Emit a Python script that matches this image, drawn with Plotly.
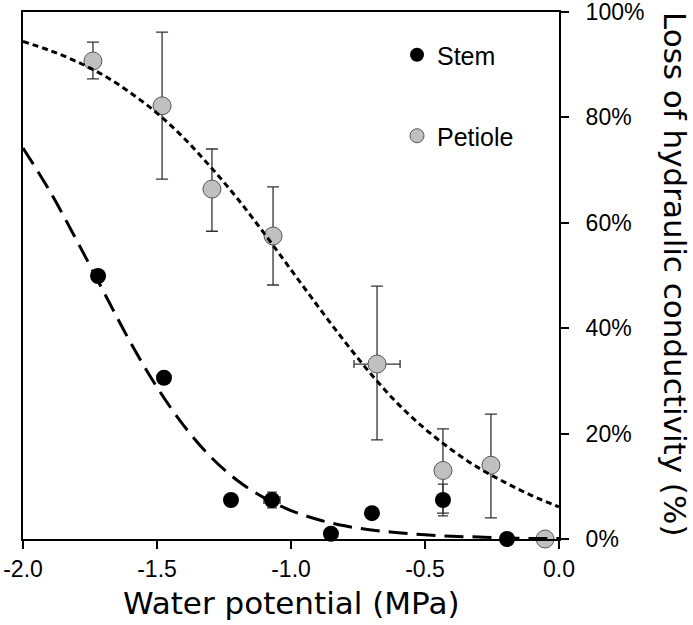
import plotly.graph_objects as go

# ---- data ----
petiole_x = [-1.739, -1.481, -1.295, -1.067, -0.679, -0.433, -0.254, -0.052]
petiole_y = [90.7, 82.2, 66.4, 57.5, 33.2, 13.0, 14.0, 0.0]
petiole_err_plus = [3.6, 14.0, 7.6, 9.3, 14.8, 7.9, 9.7, 0.0]
petiole_err_minus = [3.4, 13.9, 8.0, 9.3, 14.4, 8.1, 10.0, 0.0]
petiole_xerr = [0.0, 0.0, 0.0, 0.0, 0.086, 0.012, 0.0, 0.0]

stem_x = [-1.720, -1.474, -1.224, -1.071, -0.851, -0.698, -0.433, -0.194]
stem_y = [49.9, 30.6, 7.4, 7.4, 1.0, 4.9, 7.4, 0.0]
stem_yerr = [0.0, 0.0, 0.8, 1.5, 0.0, 0.0, 3.0, 0.0]
stem_xerr = [0.0, 0.0, 0.015, 0.03, 0.0, 0.0, 0.02, 0.0]

# fitted curves
curve_x = [-2.0, -1.9, -1.8, -1.7, -1.6, -1.5, -1.4, -1.3, -1.2, -1.1, -1.0,
           -0.9, -0.8, -0.7, -0.6, -0.5, -0.4, -0.3, -0.2, -0.1, 0.0]
petiole_curve = [94.4, 92.7, 90.6, 88.0, 84.7, 80.8, 76.1, 70.6, 64.6, 58.0, 51.1,
                 44.2, 37.5, 31.2, 25.6, 20.9, 16.9, 13.5, 10.7, 8.2, 6.1]
stem_curve = [74.2, 66.0, 56.7, 47.0, 37.4, 28.8, 21.5, 15.6, 11.1, 7.8, 5.4,
              3.7, 2.5, 1.7, 1.2, 0.8, 0.5, 0.4, 0.2, 0.1, 0.1]

x_ticks = [-2.0, -1.5, -1.0, -0.5, 0.0]
x_tick_labels = ["-2.0", "-1.5", "-1.0", "-0.5", "0.0"]
y_ticks = [0, 20, 40, 60, 80, 100]
y_tick_labels = ["0%", "20%", "40%", "60%", "80%", "100%"]

W, H = 693, 625
L, R, T, B = 23, 134, 12, 86
pw, ph = W - L - R, H - T - B

def px_to_paper_x(px):
    return (px - L) / pw

def px_to_paper_y(py):
    return (H - B - py) / ph

fig = go.Figure()

fig.add_trace(go.Scatter(
    x=petiole_x, y=petiole_y, mode="markers", showlegend=False, cliponaxis=False,
    marker=dict(size=18, color="#c0c0c0", line=dict(color="#555555", width=1)),
    error_y=dict(type="data", array=petiole_err_plus, arrayminus=petiole_err_minus,
                 color="#333333", thickness=1.3, width=6),
    error_x=dict(type="data", array=petiole_xerr, color="#333333", thickness=1.3, width=4),
))
fig.add_trace(go.Scatter(
    x=stem_x, y=stem_y, mode="markers", showlegend=False, cliponaxis=False,
    marker=dict(size=16, color="#000000", line=dict(color="#000000", width=0)),
    error_y=dict(type="data", array=stem_yerr, color="#333333", thickness=1.3, width=5),
    error_x=dict(type="data", array=stem_xerr, color="#333333", thickness=1.3, width=4),
))
fig.add_trace(go.Scatter(
    x=curve_x, y=petiole_curve, mode="lines", showlegend=False, line_shape="spline",
    line=dict(color="#000000", width=3, dash="6px,4px"),
))
fig.add_trace(go.Scatter(
    x=curve_x, y=stem_curve, mode="lines", showlegend=False, line_shape="spline",
    line=dict(color="#000000", width=3, dash="19px,9px"),
))

# legend entries
fig.add_trace(go.Scatter(
    x=[None], y=[None], mode="markers", name="Stem", legend="legend",
    marker=dict(size=14, color="#000000"),
))
fig.add_trace(go.Scatter(
    x=[None], y=[None], mode="markers", name="Petiole", legend="legend2",
    marker=dict(size=14, color="#c0c0c0", line=dict(color="#555555", width=1)),
))

tick_font = dict(family="Liberation Sans, Arial, sans-serif", size=23, color="#000000")
title_font = dict(family="DejaVu Sans, Verdana, sans-serif", size=31, color="#000000")
legend_font = dict(family="Liberation Sans, Arial, sans-serif", size=25, color="#000000")

fig.update_layout(
    width=W, height=H,
    margin=dict(l=L, r=R, t=T, b=B, autoexpand=False),
    paper_bgcolor="white", plot_bgcolor="white",
    xaxis=dict(
        range=[-2.0, 0.0], tickmode="array", tickvals=x_ticks, ticktext=x_tick_labels,
        showgrid=False, zeroline=False, automargin=False, ticklabeloverflow="allow",
        showline=True, linecolor="black", linewidth=2, mirror=True,
        ticks="outside", ticklen=8, tickwidth=2, tickcolor="black",
        tickfont=tick_font,
    ),
    yaxis=dict(
        range=[0, 100], tickmode="array", tickvals=y_ticks, ticktext=y_tick_labels,
        side="right", automargin=False, ticklabeloverflow="allow", ticklabelstandoff=12,
        showgrid=False, zeroline=False,
        showline=True, linecolor="black", linewidth=2, mirror=True,
        ticks="outside", ticklen=8, tickwidth=2, tickcolor="black",
        tickfont=tick_font,
    ),
    legend=dict(x=px_to_paper_x(397), y=px_to_paper_y(55), xanchor="left", yanchor="middle",
                font=legend_font, bgcolor="rgba(0,0,0,0)", borderwidth=0),
    legend2=dict(x=px_to_paper_x(397), y=px_to_paper_y(136), xanchor="left", yanchor="middle",
                 font=legend_font, bgcolor="rgba(0,0,0,0)", borderwidth=0),
    annotations=[
        dict(text="Water potential (MPa)", xref="paper", yref="paper",
             x=px_to_paper_x(291), y=px_to_paper_y(603), xanchor="center", yanchor="middle",
             showarrow=False, font=title_font),
        dict(text="Loss of hydraulic conductivity (%)", xref="paper", yref="paper",
             x=px_to_paper_x(675), y=px_to_paper_y(274), xanchor="center", yanchor="middle",
             textangle=90, showarrow=False, font=title_font),
    ],
)

fig.write_html(
    "out.html",
    config={"displayModeBar": False},
    post_script="document.body.style.margin='0';document.body.style.padding='0';",
)
